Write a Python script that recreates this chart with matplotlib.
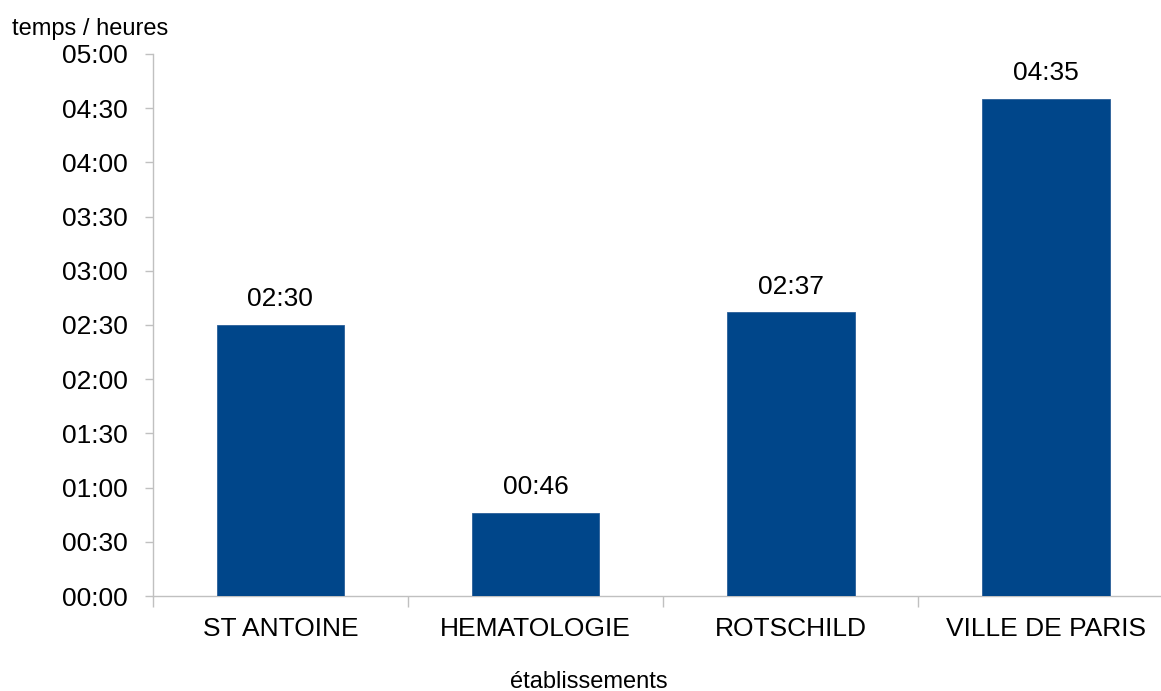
import matplotlib
matplotlib.use("Agg")
import matplotlib.pyplot as plt
from matplotlib.ticker import FuncFormatter, MultipleLocator

plt.rcParams['font.family'] = ['Liberation Sans', 'DejaVu Sans']

# durations per establishment, in minutes
etablissements = ["ST ANTOINE", "HEMATOLOGIE", "ROTSCHILD", "VILLE DE PARIS"]
minutes = [150, 46, 157, 275]


def hhmm(v, pos=None):
    v = int(round(v))
    return "%02d:%02d" % (v // 60, v % 60)


fig = plt.figure(figsize=(11.61, 6.91), dpi=100, facecolor='w')
# axes spans past the right edge like the original
ax = fig.add_axes([152.7 / 1161, 1 - 596 / 691, 1021 / 1161, 542 / 691])

x = list(range(len(etablissements)))
ax.bar(x, minutes, width=0.5, color='#00468A', edgecolor='#2a5e98', linewidth=0.6, zorder=3)

for xi, m in zip(x, minutes):
    ax.annotate(hhmm(m), (xi, m), xytext=(0, 18.5), textcoords='offset points',
                ha='center', va='center', fontsize=19, color='black')

ax.set_xlim(-0.5, len(etablissements) - 0.5)
ax.set_ylim(0, 300)
ax.yaxis.set_major_locator(MultipleLocator(30))
ax.yaxis.set_major_formatter(FuncFormatter(hhmm))

ax.set_xticks([i - 0.5 for i in range(len(etablissements) + 1)])
ax.set_xticklabels([])
ax.set_xticks(x, minor=True)
ax.set_xticklabels(etablissements, minor=True)
ax.tick_params(axis='x', which='major', length=8, color='#c0c0c0', width=1)
ax.tick_params(axis='x', which='minor', length=0, labelsize=19, pad=15)
ax.tick_params(axis='y', length=6, color='#c0c0c0', width=1, labelsize=19, pad=12)

for side in ['top', 'right']:
    ax.spines[side].set_visible(False)
for side in ['left', 'bottom']:
    ax.spines[side].set_color('#c0c0c0')
    ax.spines[side].set_linewidth(1)

fig.text(12 / 1161, 1 - 29 / 691, "temps / heures", fontsize=17, va='center', ha='left')
fig.text(589 / 1161, 1 - 682 / 691, "établissements", fontsize=17, va='center', ha='center')

fig.savefig("out.png", dpi=100)
